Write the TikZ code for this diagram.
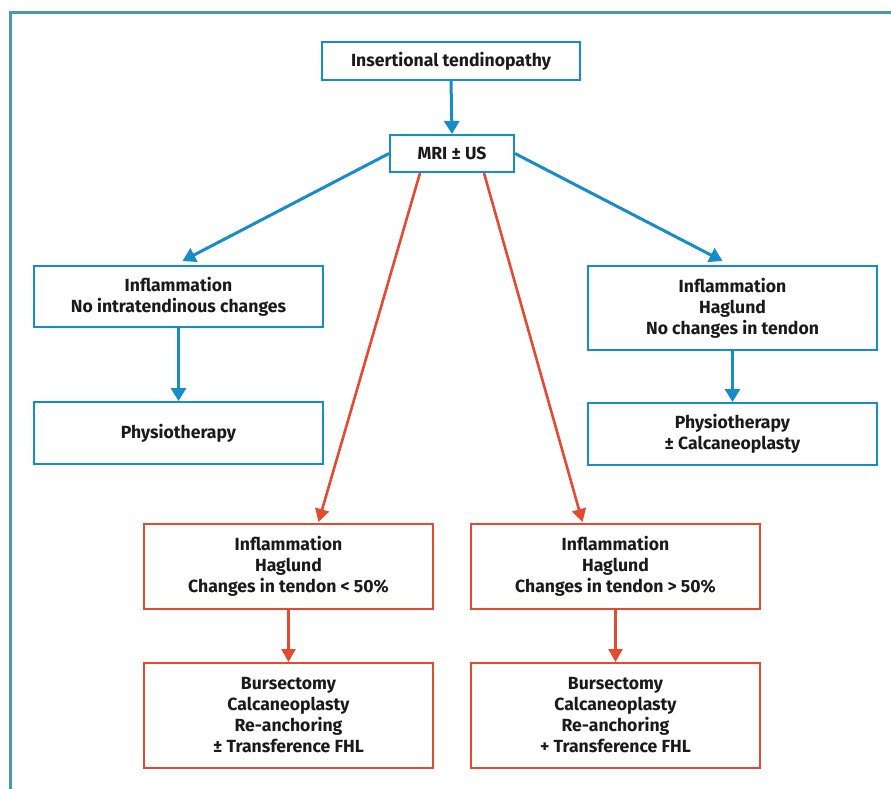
\documentclass[tikz,border=0pt]{standalone}
\usepackage{fontspec}
\setmainfont{Fira Sans}
\usetikzlibrary{calc,arrows.meta}
\definecolor{fblue}{RGB}{22,140,201}
\definecolor{fred}{RGB}{228,74,50}
\definecolor{fteal}{RGB}{74,155,163}
\definecolor{ftext}{RGB}{26,26,26}
\tikzset{
  box/.style={draw, line width=2pt, align=center, inner sep=0pt, text=ftext,
    font=\fontsize{17.6}{21}\selectfont\bfseries},
  bbox/.style={box, draw=fblue},
  rbox/.style={box, draw=fred},
  barrow/.style={draw=fblue, line width=3pt, -{Triangle[length=13pt,width=15pt]}},
  rarrow/.style={draw=fred, line width=2.6pt, -{Triangle[length=13pt,width=14pt]}},
}
\begin{document}
\begin{tikzpicture}[x=1pt,y=-1pt]
\useasboundingbox (0,0) rectangle (891,789);
\draw[fteal, line width=3pt] (10.5,789) -- (10.5,12.5) -- (891,12.5);

\node[bbox, minimum width=258pt, minimum height=38pt] (top) at (451,61) {Insertional tendinopathy};
\node[bbox, minimum width=124pt, minimum height=37pt] (mri) at (452,153.5) {MRI ± US};

\node[bbox, minimum width=289pt, minimum height=61pt] (lbox) at (178.5,296.5) {Inflammation\\No intratendinous changes};
\node[bbox, minimum width=289pt, minimum height=62pt] (lphys) at (178.5,433) {Physiotherapy};
\node[bbox, minimum width=289pt, minimum height=84pt] (rbox) at (732.5,308) {Inflammation\\Haglund\\No changes in tendon};
\node[bbox, minimum width=289pt, minimum height=62pt] (rphys) at (732.5,434) {Physiotherapy\\± Calcaneoplasty};

\node[rbox, minimum width=289pt, minimum height=85pt] (ml) at (288.5,566.5) {Inflammation\\Haglund\\Changes in tendon < 50\%};
\node[rbox, minimum width=289pt, minimum height=85pt] (mr) at (615.5,566.5) {Inflammation\\Haglund\\Changes in tendon > 50\%};
\node[rbox, minimum width=289pt, minimum height=105pt] (bl) at (288.5,715.5) {Bursectomy\\Calcaneoplasty\\Re-anchoring\\± Transference FHL};
\node[rbox, minimum width=289pt, minimum height=105pt] (br) at (615.5,715.5) {Bursectomy\\Calcaneoplasty\\Re-anchoring\\+ Transference FHL};

\coordinate (rs1) at ($(mri.south)+(-32,0)$);
\coordinate (rs2) at ($(mri.south)+(32,0)$);
\coordinate (re1) at ($(ml.north)+(30,-1)$);
\coordinate (re2) at ($(mr.north)+(-33,-1)$);
\coordinate (be1) at ($(lbox.north)+(4,-4)$);
\coordinate (be2) at ($(rbox.north)+(-10,-4)$);

\draw[barrow] (top.south) -- (mri.north);
\draw[barrow] (mri.west) -- (be1);
\draw[barrow] (mri.east) -- (be2);
\draw[barrow] (lbox.south) -- (lphys.north);
\draw[barrow] (rbox.south) -- (rphys.north);
\draw[rarrow] (rs1) -- (re1);
\draw[rarrow] (rs2) -- (re2);
\draw[rarrow] (ml.south) -- (bl.north);
\draw[rarrow] (mr.south) -- (br.north);
\end{tikzpicture}
\end{document}
